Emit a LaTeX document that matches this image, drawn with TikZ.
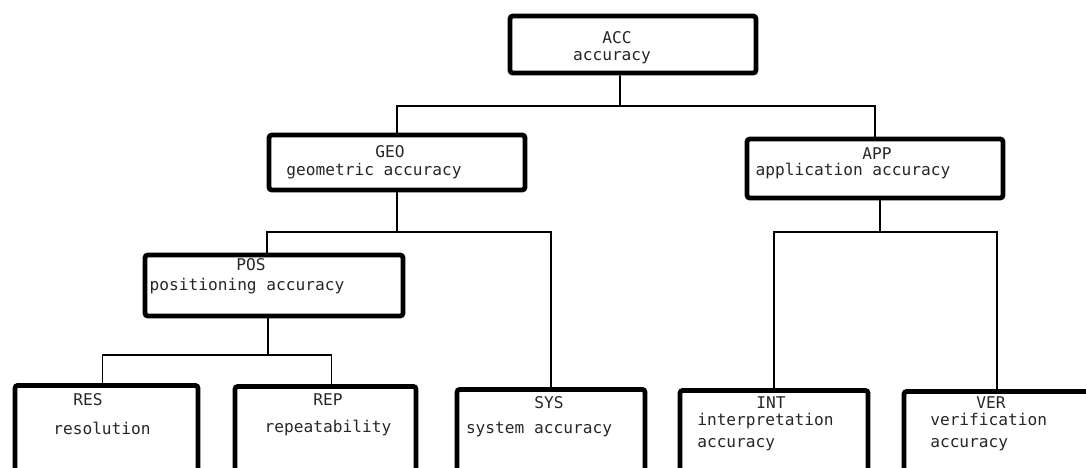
\documentclass[tikz,border=0pt]{standalone}
\usepackage{fontspec}
\newfontfamily\boxfont{DejaVu Sans Mono}
\begin{document}
\begin{tikzpicture}[x=0.25mm,y=-0.25mm]

        \path[use as bounding box,clip] (0,0) rectangle (1086,467);

        \begin{scope}[every node/.style={draw,line width=3.4pt,rounded corners=2pt,inner sep=0pt}]
          \node[minimum width=61.5mm,minimum height=14.25mm] (acc) at (633,44.5)  {};
          \node[minimum width=64mm,minimum height=13.75mm]   (geo) at (397,162.5) {};
          \node[minimum width=64mm,minimum height=14.75mm]   (app) at (875,168.5) {};
          \node[minimum width=64.5mm,minimum height=15.25mm] (pos) at (274,285.5) {};
          \node[anchor=north,minimum width=45.75mm,minimum height=37.5mm] (res) at (106.5,383) {};
          \node[anchor=north,minimum width=45.25mm,minimum height=37.5mm] (rep) at (325.5,384) {};
          \node[anchor=north,minimum width=47mm,minimum height=37.5mm]    (sys) at (551,387)   {};
          \node[anchor=north,minimum width=47mm,minimum height=37.5mm]    (int) at (774,388)   {};
          \node[anchor=north,minimum width=46.5mm,minimum height=37.5mm]  (ver) at (997,389)   {};
        \end{scope}

        \begin{scope}[every node/.style={font=\boxfont\fontsize{11.5}{15}\selectfont,inner sep=0pt,text=black!85}]
          \node (accCode) at (617,38)  {ACC};
          \node (accText) at (612,58)  {accuracy};
          \node (geoCode) at (390,152) {GEO};
          \node (geoText) at (374,171) {geometric accuracy};
          \node (appCode) at (877,154) {APP};
          \node (appText) at (853,171) {application accuracy};
          \node (posCode) at (251,265) {POS};
          \node (posText) at (247,286) {positioning accuracy};
          \node (resCode) at (88,400)  {RES};
          \node (resText) at (102,428) {resolution};
          \node (repCode) at (328,400) {REP};
          \node (repText) at (328,428) {repeatability};
          \node (sysCode) at (549,403) {SYS};
          \node (sysText) at (539,429) {system accuracy};
          \node (intCode) at (771,403) {INT};
          \node[anchor=west,align=left] (intText) at (697,432) {interpretation\\accuracy};
          \node (verCode) at (991,403) {VER};
          \node[anchor=west,align=left] (verText) at (930,432) {verification\\accuracy};
        \end{scope}

        \coordinate (lvl1) at (0,106);
        \coordinate (lvl2) at (0,232);
        \coordinate (lvl3) at (0,355);
        \coordinate (accJoin) at (620,106);

        \begin{scope}[line width=1.3pt]
          \draw ([xshift=-3.25mm]acc.south) -- (accJoin);
          \draw (geo.north) |- (accJoin) -| (app.north);
          \draw (geo.south) -- (geo.south |- lvl2);
          \draw ([xshift=-1.75mm]pos.north) |- (geo.south |- lvl2) -| (sys.north);
          \draw ([xshift=-1.5mm]pos.south) -- ([xshift=-1.5mm]pos.south |- lvl3);
          \draw ([xshift=-1mm]res.north) |- ([xshift=-1.5mm]pos.south |- lvl3) -| ([xshift=1.5mm]rep.north);
          \draw ([xshift=1.25mm]app.south) -- ([xshift=1.25mm]app.south |- lvl2);
          \draw (int.north) |- ([xshift=1.25mm]app.south |- lvl2) -| (ver.north);
        \end{scope}

      \end{tikzpicture}
\end{document}
